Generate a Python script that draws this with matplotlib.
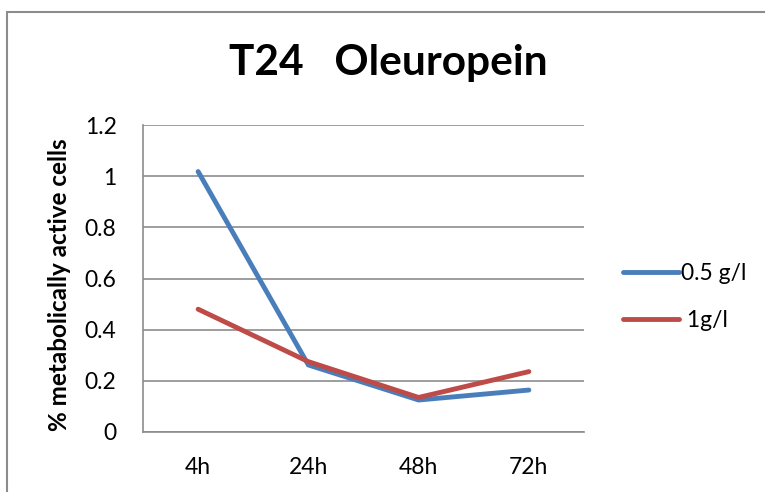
import matplotlib
matplotlib.use("Agg")
import matplotlib.pyplot as plt
from matplotlib.patches import Rectangle

categories = ["4h", "24h", "48h", "72h"]
low_dose = [1.018, 0.262, 0.125, 0.164]
high_dose = [0.48, 0.275, 0.135, 0.236]
series_names = ["0.5 g/l", " 1g/l"]
y_ticks = [0, 0.2, 0.4, 0.6, 0.8, 1, 1.2]
y_tick_labels = ["0", "0.2", "0.4", "0.6", "0.8", "1", "1.2"]

W, H = 765, 492
plt.rcParams["font.family"] = ["Lato", "DejaVu Sans"]

fig = plt.figure(figsize=(W / 100, H / 100), dpi=100)
fig.patch.set_facecolor("white")

# outer chart frame (runs off the right/bottom edge like the reference)
fig.patches.append(Rectangle((7 / W, -0.1), 1.2, (H - 12) / H + 0.1,
                             transform=fig.transFigure, fill=False,
                             edgecolor="#8c8c8c", linewidth=1.5))

ax = fig.add_axes([143 / W, (H - 432) / H, (584 - 143) / W, (432 - 125) / H])
x = range(len(categories))
ax.plot(x, low_dose, color="#4a7ebb", linewidth=3.5, label=series_names[0],
        solid_capstyle="round")
ax.plot(x, high_dose, color="#be4b48", linewidth=3.5, label=series_names[1],
        solid_capstyle="round")

ax.set_xlim(-0.5, len(categories) - 0.5)
ax.set_ylim(0, 1.2)
ax.set_yticks(y_ticks)
ax.set_yticklabels(y_tick_labels)
ax.set_xticks(list(x))
ax.set_xticklabels(categories)
ax.grid(axis="y", color="#8c8c8c", linewidth=1.2)
ax.set_axisbelow(True)
for side in ["top", "right"]:
    ax.spines[side].set_visible(False)
for side in ["left", "bottom"]:
    ax.spines[side].set_color("#8c8c8c")
    ax.spines[side].set_linewidth(1.2)
ax.tick_params(axis="both", length=0, labelsize=16.5, colors="black")
ax.tick_params(axis="y", pad=19)
ax.tick_params(axis="x", pad=18)

ax.set_ylabel("% metabolically active cells", fontsize=17.5, fontweight="bold")
ax.yaxis.label.set_va("center")
ax.yaxis.set_label_coords((60 - 143) / 441, (432 - 285) / 307)

fig.text(388.5 / W, (H - 75) / H, "T24   Oleuropein", ha="center",
         va="baseline", fontsize=30.5, fontweight="bold")

fig.legend(loc="center left", bbox_to_anchor=(623 / W, (H - 297) / H),
           frameon=False, fontsize=16.5, handlelength=2.45, handletextpad=0.1,
           labelspacing=1.15, borderpad=0, borderaxespad=0)

fig.savefig("out.png", dpi=100)
